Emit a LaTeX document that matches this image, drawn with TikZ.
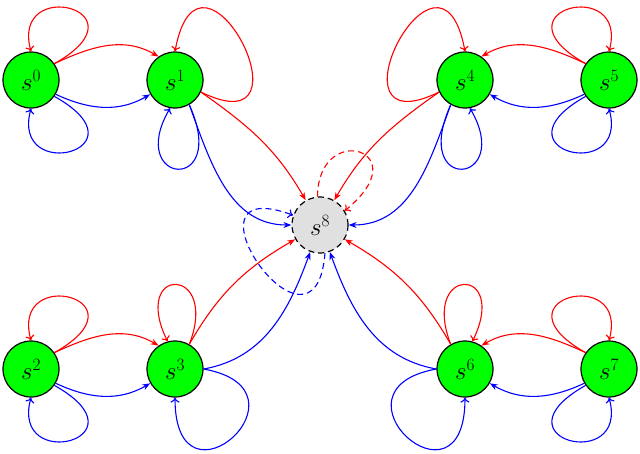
\documentclass[tikz,border=0pt]{standalone}
\usetikzlibrary{arrows.meta}
\begin{document}
\begin{tikzpicture}[x=1pt,y=-1pt,
  st/.style={circle,draw,line width=1.2pt,fill=green,minimum size=56pt,inner sep=0pt,font=\fontsize{23}{26}\selectfont},
  tr/.style={line width=1.1pt,-{Stealth[length=8pt,width=6pt]}},
  lp/.style={line width=1.1pt,-{To[length=5pt,width=9pt]}},
  dl/.style={lp,dash pattern=on 6pt off 4pt}]
\useasboundingbox (0,0) rectangle (640,453);
\node[st] (s0) at (31,80) {$s^0$};
\node[st] (s1) at (175,80) {$s^1$};
\node[st] (s4) at (465,80) {$s^4$};
\node[st] (s5) at (609,80) {$s^5$};
\node[st] (s2) at (31,369) {$s^2$};
\node[st] (s3) at (175,369) {$s^3$};
\node[st] (s6) at (465,369) {$s^6$};
\node[st] (s7) at (609,369) {$s^7$};
\node[st,fill=black!12,dash pattern=on 6pt off 4pt] (s8) at (320,225) {$s^8$};
% s0
\draw[lp,red] (s0.35) .. controls (150,10) and (10,-25) .. (s0.90);
\draw[lp,blue] (s0.-35) .. controls (150,150) and (10,185) .. (s0.-90);
\draw[tr,red] (s0.35) to[out=25,in=150] (s1.125);
\draw[tr,blue] (s0.-30) to[out=-25,in=-150] (s1.-150);
% s1
\draw[lp,red] (s1.-25) .. controls (320,150) and (200,-85) .. (s1.90);
\draw[lp,blue] (s1.-60) .. controls (230,195) and (125,185) .. (s1.-100);
\draw[tr,red] (s1.-25) to[out=-35,in=120] (s8.120);
\draw[tr,blue] (s1.-60) to[out=-70,in=180] (s8.180);
% s5
\draw[lp,red] (s5.145) .. controls (490,10) and (630,-25) .. (s5.90);
\draw[lp,blue] (s5.-145) .. controls (490,150) and (630,185) .. (s5.-90);
\draw[tr,red] (s5.145) to[out=155,in=30] (s4.55);
\draw[tr,blue] (s5.-150) to[out=-155,in=-30] (s4.-30);
% s4
\draw[lp,red] (s4.-155) .. controls (320,150) and (440,-85) .. (s4.90);
\draw[lp,blue] (s4.-120) .. controls (410,195) and (515,185) .. (s4.-80);
\draw[tr,red] (s4.-155) to[out=-145,in=60] (s8.60);
\draw[tr,blue] (s4.-120) to[out=-110,in=0] (s8.0);
% s8
\draw[dl,red] (s8.95) .. controls (318,120) and (420,150) .. (s8.30);
\draw[dl,blue] (s8.-80) .. controls (315,380) and (170,170) .. (s8.160);
% s2
\draw[lp,red] (s2.35) .. controls (150,299) and (10,264) .. (s2.90);
\draw[lp,blue] (s2.-35) .. controls (150,439) and (10,474) .. (s2.-90);
\draw[tr,red] (s2.35) to[out=25,in=150] (s3.125);
\draw[tr,blue] (s2.-30) to[out=-25,in=-150] (s3.-150);
% s3
\draw[lp,red] (s3.60) .. controls (220,265) and (130,265) .. (s3.105);
\draw[lp,blue] (s3.0) .. controls (320,390) and (175,520) .. (s3.-90);
\draw[tr,red] (s3.60) to[out=60,in=-150] (s8.-150);
\draw[tr,blue] (s3.0) to[out=10,in=-110] (s8.-110);
% s7
\draw[lp,red] (s7.145) .. controls (490,299) and (630,264) .. (s7.90);
\draw[lp,blue] (s7.-145) .. controls (490,439) and (630,474) .. (s7.-90);
\draw[tr,red] (s7.145) to[out=155,in=30] (s6.55);
\draw[tr,blue] (s7.-150) to[out=-155,in=-30] (s6.-30);
% s6
\draw[lp,red] (s6.120) .. controls (420,265) and (510,265) .. (s6.75);
\draw[lp,blue] (s6.180) .. controls (320,390) and (465,520) .. (s6.-90);
\draw[tr,red] (s6.120) to[out=120,in=-30] (s8.-30);
\draw[tr,blue] (s6.180) to[out=170,in=-70] (s8.-70);
\end{tikzpicture}
\end{document}
